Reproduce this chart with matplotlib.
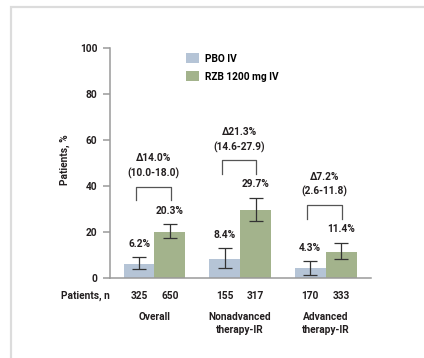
import matplotlib
matplotlib.use("Agg")
import matplotlib.pyplot as plt
from matplotlib.patches import Rectangle
import numpy as np

plt.rcParams["font.family"] = ["Roboto", "DejaVu Sans"]
plt.rcParams["font.weight"] = "bold"
plt.rcParams["font.size"] = 7.3

groups = ["Overall", "Nonadvanced\ntherapy-IR", "Advanced\ntherapy-IR"]
series = ["PBO IV", "RZB 1200 mg IV"]

pbo = [6.2, 8.4, 4.3]
rzb = [20.3, 29.7, 11.4]
pbo_lo = [3.9, 4.6, 1.4]
pbo_hi = [9.1, 13.0, 7.5]
rzb_lo = [17.4, 24.9, 8.5]
rzb_hi = [23.6, 35.0, 15.5]

n_pbo = [325, 155, 170]
n_rzb = [650, 317, 333]

deltas = ["\u039414.0%", "\u039421.3%", "\u03947.2%"]
ci = ["(10.0-18.0)", "(14.6-27.9)", "(2.6-11.8)"]

PBO_COLOR = "#b5c4d6"
RZB_COLOR = "#a3b38c"
TEXT = "#231f20"
AXIS = "#9a9a9a"

W, H = 424, 358
fig = plt.figure(figsize=(W / 100, H / 100), dpi=100)
fig.patch.set_facecolor("white")

# light frame around the figure
fig.patches.append(Rectangle((11 / W, -0.1), 1.2, 1 - 6.5 / H + 0.1,
                             transform=fig.transFigure, fill=False,
                             edgecolor="#dcdcdc", linewidth=1.6))

ax = fig.add_axes([110 / W, 1 - 278.3 / H, 261 / W, 230 / H])

x = np.arange(len(groups))
bw = 0.362
xp = x - bw / 2
xr = x + bw / 2

ax.bar(xp, pbo, bw, color=PBO_COLOR, label=series[0])
ax.bar(xr, rzb, bw, color=RZB_COLOR, label=series[1])

err_kw = dict(fmt="none", ecolor="#333333", elinewidth=0.9, capsize=5, capthick=0.9)
ax.errorbar(xp, pbo, yerr=[np.subtract(pbo, pbo_lo), np.subtract(pbo_hi, pbo)], **err_kw)
ax.errorbar(xr, rzb, yerr=[np.subtract(rzb, rzb_lo), np.subtract(rzb_hi, rzb)], **err_kw)

for xs, vals, tops in [(xp, pbo, pbo_hi), (xr, rzb, rzb_hi)]:
    for xi, v, t in zip(xs, vals, tops):
        ax.annotate(f"{v}%", (xi, t), xytext=(0, 9.7), textcoords="offset points",
                    ha="center", va="center", color=TEXT, fontweight="bold")

# brackets with deltas
for i in range(len(groups)):
    top_err = max(pbo_hi[i], rzb_hi[i])
    yb = top_err + 10.5
    yt = yb + 5.8
    xl = x[i] - 0.215
    xrr = x[i] + 0.19
    ax.plot([xl, xl, xrr, xrr], [yb, yt, yt, yb], color="#555555", lw=0.9,
            clip_on=False)
    xc = (xl + xrr) / 2
    ax.text(xc, yt + 5.8, ci[i], ha="center", va="center", color=TEXT)
    ax.text(xc, yt + 12.3, deltas[i], ha="center", va="center", color=TEXT)

ax.set_xlim(-0.52, 2.53)
ax.set_ylim(0, 100)
ax.set_yticks([0, 20, 40, 60, 80, 100])
ax.set_xticks([])
for s in ["top", "right"]:
    ax.spines[s].set_visible(False)
for s in ["left", "bottom"]:
    ax.spines[s].set_color(AXIS)
    ax.spines[s].set_linewidth(1.1)
ax.tick_params(axis="y", length=5, width=1.1, color=AXIS, labelcolor=TEXT, pad=4)
for lab in ax.get_yticklabels():
    lab.set_fontweight("bold")

fig.text(65 / W, 1 - 160 / H, "Patients, %", rotation=90, ha="center", va="center",
         color=TEXT)

# patient numbers and group labels under the axis
trans = ax.get_xaxis_transform()
ax.text(0, -0.077, "Patients, n", transform=ax.transAxes, ha="right", va="center",
        color=TEXT)
for i in range(len(groups)):
    ax.text(xp[i], -0.077, str(n_pbo[i]), transform=trans, ha="center", va="center",
            color=TEXT)
    ax.text(xr[i], -0.077, str(n_rzb[i]), transform=trans, ha="center", va="center",
            color=TEXT)
    ax.text(x[i], -0.145, groups[i], transform=trans, ha="center", va="top",
            color=TEXT, linespacing=1.45)

ax.legend(loc="upper left", bbox_to_anchor=((186 - 110) / 261, (278.3 - 53) / 230),
          frameon=False, borderpad=0, borderaxespad=0, handlelength=1.3,
          handleheight=1.2, handletextpad=0.55, labelspacing=0.72,
          prop={"weight": "bold"})

fig.savefig("out.png", dpi=100, facecolor="white")
